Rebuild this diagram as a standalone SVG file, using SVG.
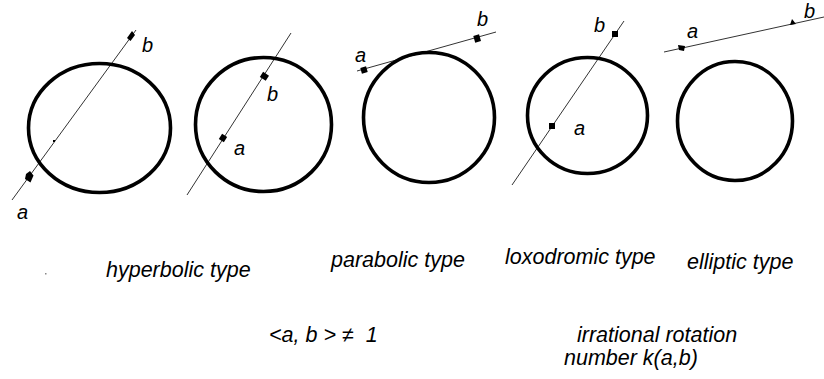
<svg xmlns="http://www.w3.org/2000/svg" width="824" height="379" viewBox="0 0 824 379">
<style>
.circ{fill:none;stroke:#000;stroke-width:3.6}
.ln{stroke:#333;stroke-width:1;fill:none}
.mk{fill:#000}
.t{font-family:"Liberation Sans",Arial,sans-serif;font-style:italic;font-size:21.5px;fill:#000}
.lb{font-family:"Liberation Sans",Arial,sans-serif;font-style:italic;font-size:20px;fill:#000}
</style>
<rect width="824" height="379" fill="#fff"/>
<g id="connectors">
<line class="ln" x1="12" y1="200" x2="136" y2="30"/>
<line class="ln" x1="187" y1="195" x2="291" y2="33"/>
<line class="ln" x1="357" y1="71" x2="496" y2="32"/>
<line class="ln" x1="512" y1="185" x2="624" y2="21"/>
<line class="ln" x1="664" y1="52" x2="824" y2="17"/>
</g>
<g id="hyperbolic">
<ellipse class="circ" cx="99.5" cy="128" rx="71" ry="64.5"/>
<path class="mk" d="M30,171 L33.5,175.5 L30.5,182.5 L25,179 L26,174 Z"/>
<path class="mk" d="M132,31 L135,35 L130.5,41 L127,38 Z"/>
<rect class="mk" x="53" y="140" width="2" height="2"/>
<text class="lb" x="142" y="52">b</text>
<text class="lb" x="17" y="219">a</text>
<text class="t" x="106" y="277">hyperbolic type</text>
<rect x="45" y="273" width="1.5" height="1.5" fill="#888"/>
</g>
<g id="parabolic-left">
<ellipse class="circ" cx="263.5" cy="124.5" rx="68" ry="67"/>
<rect class="mk" x="261" y="73" width="6" height="7" transform="rotate(-57 264 76)"/>
<rect class="mk" x="220" y="135" width="6" height="6" transform="rotate(-57 223 138)"/>
<text class="lb" x="267" y="101">b</text>
<text class="lb" x="234" y="155">a</text>
</g>
<g id="parabolic">
<ellipse class="circ" cx="429" cy="117.5" rx="65.5" ry="65"/>
<rect class="mk" x="361" y="67" width="6" height="6" transform="rotate(-16 364 70)"/>
<rect class="mk" x="474" y="35" width="6" height="7" transform="rotate(-16 477 38)"/>
<text class="lb" x="355" y="62">a</text>
<text class="lb" x="477" y="26">b</text>
<text class="t" x="331" y="267">parabolic type</text>
</g>
<g id="loxodromic">
<ellipse class="circ" cx="587.5" cy="115.5" rx="60" ry="58"/>
<rect class="mk" x="612" y="31" width="6" height="6"/>
<rect class="mk" x="549" y="123" width="6" height="6"/>
<text class="lb" x="594" y="32">b</text>
<text class="lb" x="574" y="135">a</text>
<text class="t" x="505" y="264">loxodromic type</text>
</g>
<g id="elliptic">
<ellipse class="circ" cx="735" cy="121" rx="57.5" ry="59.5"/>
<path class="mk" d="M678,45 L685,46 L684,51 L679,50 Z"/>
<path class="mk" d="M792,19 L796,24 L790,25 Z"/>
<text class="lb" x="687" y="38">a</text>
<text class="lb" x="804" y="18">b</text>
<text class="t" x="687" y="269">elliptic type</text>
</g>
<g id="notes">
<text class="t" x="269" y="342" xml:space="preserve">&lt;a, b &gt; ≠  1</text>
<text class="t" x="577" y="342">irrational rotation</text>
<text class="t" x="564" y="365">number k(a,b)</text>
</g>
</svg>
